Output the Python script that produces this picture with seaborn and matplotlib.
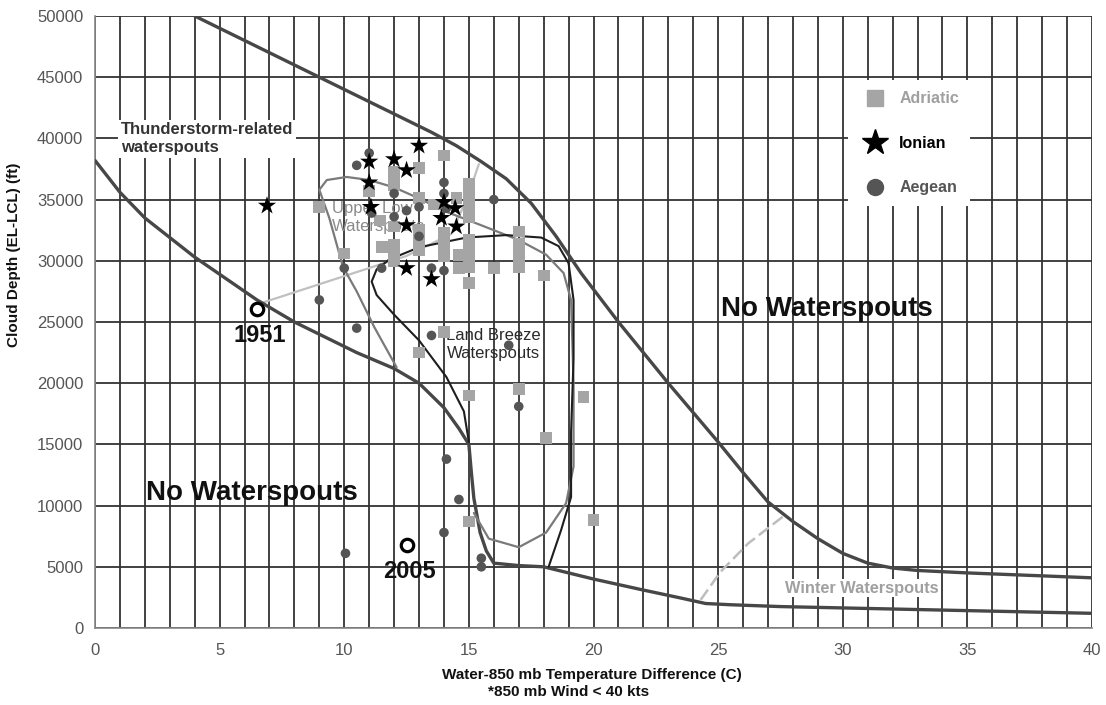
import numpy as np
import pandas as pd
import matplotlib
matplotlib.use("Agg")
import matplotlib.pyplot as plt
from matplotlib import font_manager
from matplotlib.lines import Line2D
import seaborn as sns

# ---------------- data ----------------
# Outer upper boundary
outer_x = [4, 13.5, 14.5, 15.5, 16.5, 17.5, 18.5, 19.5, 21, 23, 25, 26, 27, 28, 29, 30, 31, 32, 33, 35, 37.5, 40]
outer_y = [50000, 40500, 39400, 38100, 36700, 34700, 32000, 29000, 25000, 20000, 15200, 12700, 10300, 8700,
           7300, 6100, 5300, 4900, 4700, 4500, 4300, 4100]
# Lower boundary
lower_x = [0, 1, 2, 4, 6.5, 8, 10.5, 12, 13, 14, 14.6, 15, 15.1, 15.2, 15.45, 15.7, 16, 17, 18, 20, 22,
           23.5, 24.5, 25.5, 27.5, 40]
lower_y = [38200, 35600, 33500, 30300, 26800, 25000, 22500, 21200, 20000, 18000, 16300, 15000, 12700,
           10600, 7800, 6300, 5300, 5100, 5000, 4000, 3100, 2450, 2000, 1900, 1750, 1200]
# Land breeze curve
land_x = [15.0, 14.8, 14.1, 13.0, 12.0, 11.3, 11.1, 11.3, 11.8, 13.0, 14.9, 16.5, 17.9, 18.6, 19.0, 19.2,
          19.2, 19.1, 19.1, 18.7, 18.2]
land_y = [15200, 17700, 20500, 23500, 25600, 27200, 28300, 29300, 30100, 31100, 31900, 32100, 31900,
          31200, 29800, 26800, 22000, 16000, 10700, 8000, 5000]
# Upper low curve
ulow_x = [12.1, 11.2, 10.5, 9.95, 9.4, 9.0, 9.3, 10.1, 11.0, 12.0, 13.0, 14.1, 15.5, 17.0, 18.1, 18.8,
          19.1, 19.2, 19.2, 18.9, 18.1, 17.0, 15.8, 15.2]
ulow_y = [21300, 24600, 27500, 29500, 33500, 35800, 36600, 36850, 36600, 36000, 35100, 34000, 32900,
          31700, 30500, 29000, 26800, 20000, 13200, 10200, 7800, 6600, 7300, 9400]
# 1951 trajectory line
traj_x = [6.6, 12.5, 14.3, 15.0, 15.4]
traj_y = [26500, 30400, 32200, 35500, 37900]
# Winter waterspouts dashed curve
winter_x = [24.3, 25.1, 26.2, 27.6]
winter_y = [2300, 4600, 6900, 9100]

adriatic_x = [9.0, 10.0, 11.0, 11.5, 11.45, 12.0, 12.0, 12.0, 12.0, 12.0, 12.0, 12.0, 13.0, 13.0, 13.0,
              13.0, 13.0, 13.0, 13.6, 14.0, 14.0, 14.0, 14.0, 14.0, 14.5, 14.6, 14.6, 15.0, 15.0, 15.0,
              15.0, 15.0, 15.0, 15.0, 15.0, 15.0, 15.0, 16.0, 17.0, 17.0, 17.0, 17.0, 18.0, 13.0, 14.0,
              15.0, 17.0, 19.6, 18.1, 15.0, 20.0]
adriatic_y = [34400, 30600, 35700, 31100, 33300, 37300, 36700, 36200, 32800, 31300, 30600, 30000, 37600,
              35100, 32500, 31800, 31200, 30900, 34600, 38600, 32300, 31600, 30900, 30400, 35100, 30500,
              29400, 36300, 35600, 34900, 34200, 33600, 31700, 31000, 30300, 29500, 28200, 29400, 32400,
              31400, 30400, 29500, 28800, 22500, 24200, 19000, 19500, 18900, 15500, 8700, 8800]
ionian_x = [6.9, 11.0, 12.0, 12.5, 13.0, 11.0, 11.07, 12.5, 14.0, 14.45, 13.9, 14.5, 12.5, 13.5]
ionian_y = [34500, 38100, 38300, 37400, 39400, 36400, 34400, 32900, 34800, 34300, 33500, 32800, 29400, 28500]
aegean_x = [11.0, 10.5, 12.0, 11.1, 13.0, 12.0, 12.5, 14.0, 14.0, 14.1, 13.0, 16.0, 10.0, 11.5, 13.5,
            14.0, 9.0, 10.5, 13.5, 16.6, 17.0, 14.1, 14.6, 14.0, 10.05, 15.5, 15.5]
aegean_y = [38800, 37800, 35500, 33900, 34400, 33600, 34100, 36400, 35500, 34300, 32000, 35000, 29400,
            29400, 29400, 29200, 26800, 24500, 23900, 23100, 18100, 13800, 10500, 7800, 6100, 5700, 5000]
events_x = [6.5, 12.5]
events_y = [26100, 6800]
events_lbl = ["1951", "2005"]

x_ticks = list(range(0, 41, 5))
y_ticks = list(range(0, 50001, 5000))

# ---------------- style ----------------
sns.set_theme(style="white")
avail = {f.name for f in font_manager.fontManager.ttflist}
narrow = "Liberation Sans Narrow" if "Liberation Sans Narrow" in avail else "Liberation Sans"
plt.rcParams["font.family"] = ["Liberation Sans", "DejaVu Sans"]

fig = plt.figure(figsize=(11.06, 7.05), dpi=100)
ax = fig.add_axes([95 / 1106, 1 - 628 / 705, 997 / 1106, 612 / 705])
ax.set_xlim(0, 40)
ax.set_ylim(0, 50000)

# grid
ax.set_xticks(x_ticks)
ax.set_xticks(range(0, 41), minor=True)
ax.set_yticks(y_ticks)
ax.grid(True, which="both", axis="x", color="#333333", lw=1.3)
ax.grid(True, which="major", axis="y", color="#333333", lw=1.3)
ax.set_axisbelow(True)
for s in ["top", "right"]:
    ax.spines[s].set_visible(False)
for s in ["left", "bottom"]:
    ax.spines[s].set_color("#888888")
    ax.spines[s].set_linewidth(1.2)
ax.tick_params(axis="both", which="both", direction="out", color="#888888", length=5, width=1,
               labelcolor="#555555")
ax.tick_params(axis="x", which="major", pad=6)
for lab in ax.get_xticklabels() + ax.get_yticklabels():
    lab.set_fontfamily([narrow, "DejaVu Sans"])
    lab.set_fontsize(12)

def curve(x, y, color, lw, ls="-", z=3):
    df = pd.DataFrame({"x": x, "y": y})
    sns.lineplot(data=df, x="x", y="y", sort=False, estimator=None, color=color, lw=lw, ls=ls,
                 ax=ax, zorder=z)

curve(traj_x, traj_y, "#c0c0c0", 1.6, z=2.5)
curve(outer_x, outer_y, "#474747", 2.4)
curve(lower_x, lower_y, "#474747", 2.4)
curve(ulow_x, ulow_y, "#7a7a7a", 1.6)
curve(land_x, land_y, "#1e1e1e", 1.5)
curve(winter_x, winter_y, "#bdbdbd", 1.8, ls=(0, (5, 2)))

# region labels
ax.text(1.05, 41300, "Thunderstorm-related\nwaterspouts", fontsize=12, color="#333333",
        fontweight="bold", va="top", ha="left", linespacing=1.25, zorder=2,
        bbox=dict(facecolor="white", edgecolor="none", pad=2))
ax.text(9.5, 34900, "Upper Low\nWaterspouts", fontsize=12, color="#8a8a8a", va="top", ha="left",
        linespacing=1.25, zorder=2.8)
ax.text(14.1, 24500, "Land Breeze\nWaterspouts", fontsize=12, color="#2a2a2a", va="top", ha="left",
        linespacing=1.25, zorder=2.8)
ax.text(25.1, 26050, "No Waterspouts", fontsize=20, fontweight="bold", color="#111111", va="center",
        ha="left", zorder=4)
ax.text(2.05, 11000, "No Waterspouts", fontsize=20, fontweight="bold", color="#111111", va="center",
        ha="left", zorder=4)
ax.text(27.7, 3250, "Winter Waterspouts", fontsize=11.8, fontweight="bold", color="#a0a0a0",
        va="center", ha="left", zorder=2.8, bbox=dict(facecolor="white", edgecolor="none", pad=1))

# data points
sns.scatterplot(x=adriatic_x, y=adriatic_y, marker="s", s=72, color="#a5a5a5", edgecolor="none",
                ax=ax, zorder=5)
sns.scatterplot(x=aegean_x, y=aegean_y, marker="o", s=48, color="#555555", edgecolor="none",
                ax=ax, zorder=6)
sns.scatterplot(x=ionian_x, y=ionian_y, marker="*", s=190, color="#000000", edgecolor="none",
                ax=ax, zorder=7)
sns.scatterplot(x=events_x, y=events_y, marker="o", s=80, facecolor="white", edgecolor="black",
                linewidth=2.3, ax=ax, zorder=7)
for ex, ey, el in zip(events_x, events_y, events_lbl):
    ax.annotate(el, (ex, ey), xytext=(2, -11), textcoords="offset points", ha="center", va="top",
                fontsize=17, fontweight="bold", color="#111111", zorder=8)

# legend
handles = [
    Line2D([], [], marker="s", ls="none", color="#a5a5a5", markersize=12),
    Line2D([], [], marker="*", ls="none", color="#000000", markersize=19),
    Line2D([], [], marker="o", ls="none", color="#555555", markersize=11.5),
]
leg = ax.legend(handles, ["Adriatic", "Ionian", "Aegean"], loc="upper left",
                bbox_to_anchor=((840 - 95) / 997, (628 - 72) / 612), frameon=True,
                facecolor="white", edgecolor="none", framealpha=1, fancybox=False,
                labelspacing=1.85, handletextpad=0.5, borderpad=0.7, prop={"size": 11.5, "weight": "bold"})
for t, c in zip(leg.get_texts(), ["#a0a0a0", "#000000", "#555555"]):
    t.set_color(c)

# axis labels
ax.set_xlabel("")
ax.set_ylabel("Cloud Depth (EL-LCL) (ft)", fontsize=11, fontweight="bold", color="#111111",
              fontfamily=[narrow, "DejaVu Sans"])
ax.yaxis.set_label_coords(-0.074, 0.61)
fig.text(592 / 1106, 1 - 675 / 705, "Water-850 mb Temperature Difference (C)", ha="center",
         va="center", fontsize=11, fontweight="bold", color="#111111",
         fontfamily=[narrow, "DejaVu Sans"])
fig.text(569 / 1106, 1 - 692 / 705, "*850 mb Wind < 40 kts", ha="center", va="center",
         fontsize=11, fontweight="bold", color="#111111", fontfamily=[narrow, "DejaVu Sans"])

fig.savefig("out.png", dpi=100, facecolor="white")
